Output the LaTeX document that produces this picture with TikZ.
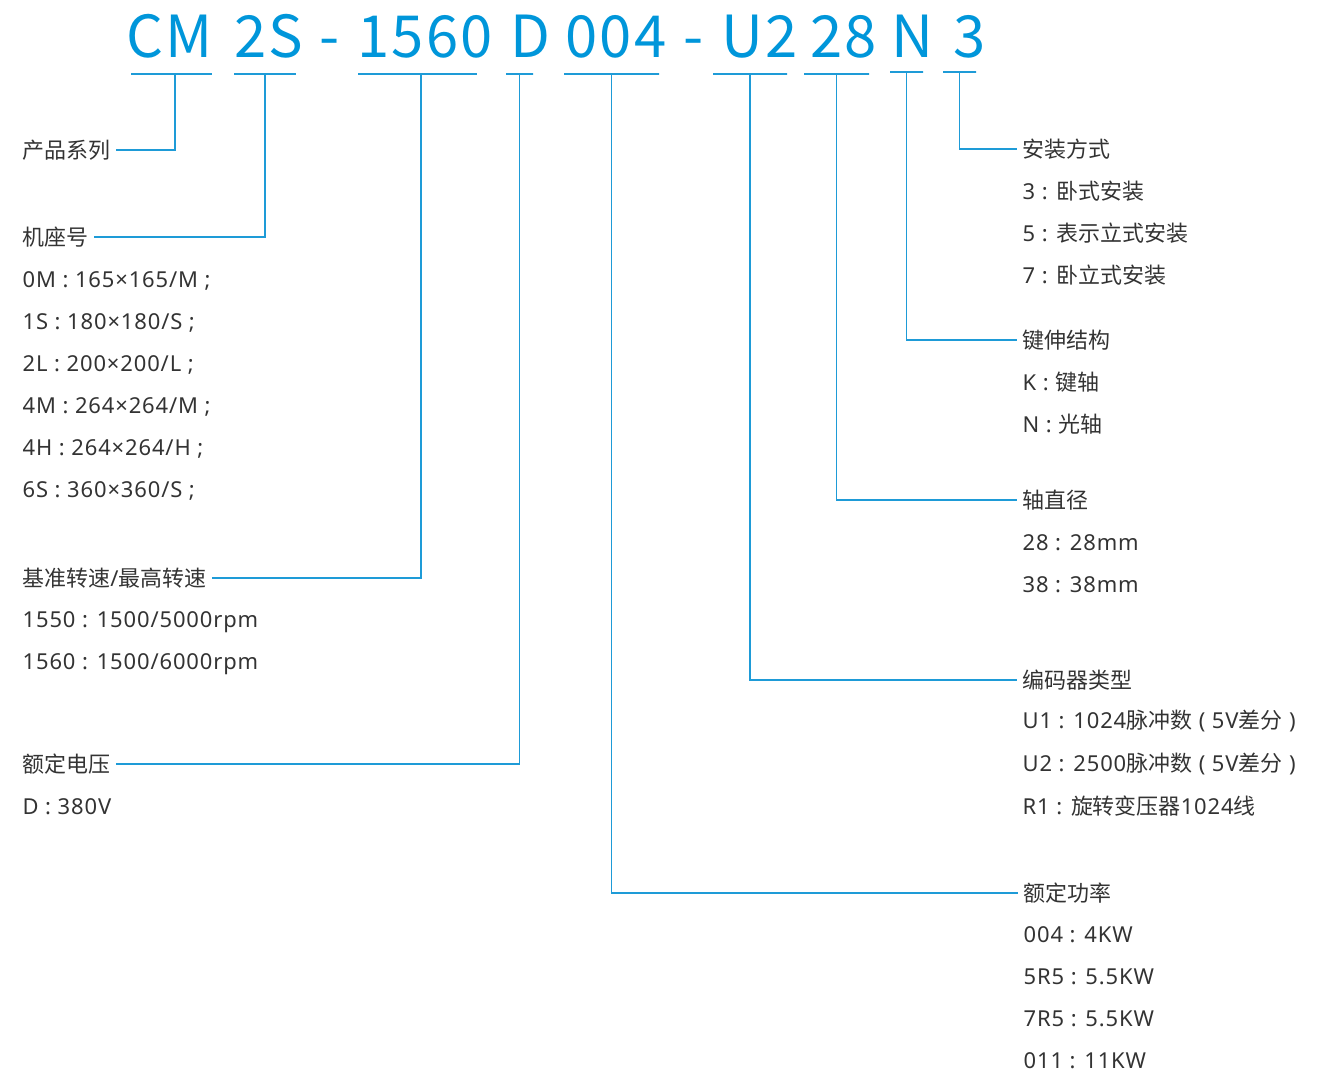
\documentclass[tikz,border=0pt]{standalone}
\usepackage{fontspec}
\newfontfamily\cjk{Noto Sans CJK SC}
\newfontfamily\codefont[LetterSpace=4]{Noto Sans CJK SC}
\newfontfamily\lat[LetterSpace=4]{Noto Sans}
\definecolor{codeblue}{HTML}{0096DA}
\definecolor{leadblue}{HTML}{1E9BD7}
\definecolor{txtgray}{HTML}{333333}
\tikzset{
  part/.style={anchor=base west, inner sep=0pt, text=codeblue, font=\codefont\fontsize{33}{33}\selectfont},
  bar/.style={draw=leadblue, line width=0.8pt, inner sep=0pt, minimum height=0pt},
  lead/.style={draw=leadblue, line width=0.8pt},
  lbl/.style={anchor=west, inner xsep=3pt, inner ysep=1pt, text=txtgray, font=\cjk\fontsize{12.5}{14}\selectfont},
  latlbl/.style={lbl, yshift=-0.04cm, inner ysep=0pt, font=\lat\fontsize{12.5}{14}\selectfont},
}
\begin{document}
\begin{tikzpicture}[x=0.02cm, y=-0.02cm]

    \useasboundingbox (0,0) rectangle (1337,1074);

    % model code
    \node[part] (cm)    at (126,58) {CM};
    \node[part] (fr)    at (234,58) {2S};
    \node[part] (dashA) at (319,58) {-};
    \node[part] (sp)    at (357,58) {1560};
    \node[part] (vo)    at (510,58) {D};
    \node[part] (pw)    at (565,58) {004};
    \node[part] (dashB) at (683,58) {-};
    \node[part] (en)    at (721,58) {U2};
    \node[part] (di)    at (810,58) {28};
    \node[part] (sh)    at (891,58) {N};
    \node[part] (mo)    at (953,58) {3};

    % underlines
    \node[bar, minimum width=1.62cm] (cmbar) at (171.5,74) {};
    \node[bar, minimum width=1.24cm] (frbar) at (265,74) {};
    \node[bar, minimum width=2.38cm] (spbar) at (417.5,74) {};
    \node[bar, minimum width=0.54cm] (vobar) at (519.5,74) {};
    \node[bar, minimum width=1.9cm]  (pwbar) at (611.5,74) {};
    \node[bar, minimum width=1.48cm] (enbar) at (750,74) {};
    \node[bar, minimum width=1.3cm]  (dibar) at (836.5,74) {};
    \node[bar, minimum width=0.66cm] (shbar) at (906.5,72) {};
    \node[bar, minimum width=0.66cm] (mobar) at (959.5,72) {};

    % left column
    \node[lbl] (series) at (17,150) {产品系列};
    \node[lbl] (frame) at (17,237) {机座号};
    \foreach \t [count=\i from 0] in {0M : 165×165/M ;, 1S : 180×180/S ;, 2L : 200×200/L ;,
        4M : 264×264/M ;, 4H : 264×264/H ;, 6S : 360×360/S ;}
        \node[latlbl] (frame\i) at (17,279+42*\i) {\t};
    \node[lbl] (speed) at (17,578) {基准转速{\lat/}最高转速};
    \node[latlbl] (speed1) at (17,620) {1550 : 1500/5000rpm};
    \node[latlbl] (speed2) at (17,662) {1560 : 1500/6000rpm};
    \node[lbl] (volt) at (17,764) {额定电压};
    \node[latlbl] (volt1) at (17,805) {D : 380V};

    % right column
    \node[lbl] (mount) at (1017,149) {安装方式};
    \foreach \t [count=\i from 0] in {{\lat 3 : }卧式安装, {\lat 5 : }表示立式安装, {\lat 7 : }卧立式安装}
        \node[lbl] (mount\i) at (1017,191+42*\i) {\t};
    \node[lbl] (shaft) at (1017,340) {键伸结构};
    \node[lbl] (shaft1) at (1017,382) {{\lat K : }键轴};
    \node[lbl] (shaft2) at (1017,424) {{\lat N : }光轴};
    \node[lbl] (diam) at (1017,500) {轴直径};
    \node[latlbl] (diam1) at (1017,541) {28 : 28mm};
    \node[latlbl] (diam2) at (1017,583) {38 : 38mm};
    \node[lbl] (enc) at (1017,680) {编码器类型};
    \foreach \t [count=\i from 0] in {{\lat U1 : 1024}脉冲数{\lat\ ( 5V}差分{\lat\ )},
        {\lat U2 : 2500}脉冲数{\lat\ ( 5V}差分{\lat\ )}, {\lat R1 : }旋转变压器{\lat 1024}线}
        \node[lbl] (enc\i) at (1017,721+42.5*\i) {\t};
    \node[lbl] (power) at (1018,893) {额定功率};
    \foreach \t [count=\i from 0] in {004 : 4KW, 5R5 : 5.5KW, 7R5 : 5.5KW, 011 : 11KW}
        \node[latlbl] (power\i) at (1018,933+42*\i) {\t};

    % leaders
    \draw[lead] ([xshift=0.07cm]cmbar.south) |- (series.east);
    \draw[lead] (frbar.south) |- (frame.east);
    \draw[lead] ([xshift=0.07cm]spbar.south) |- (speed.east);
    \draw[lead] (vobar.south) |- (volt.east);
    \draw[lead] (pwbar.south) |- (power.west);
    \draw[lead] (enbar.south) |- (enc.west);
    \draw[lead] (dibar.south) |- (diam.west);
    \draw[lead] (shbar.south) |- (shaft.west);
    \draw[lead] (mobar.south) |- (mount.west);

\end{tikzpicture}
\end{document}
